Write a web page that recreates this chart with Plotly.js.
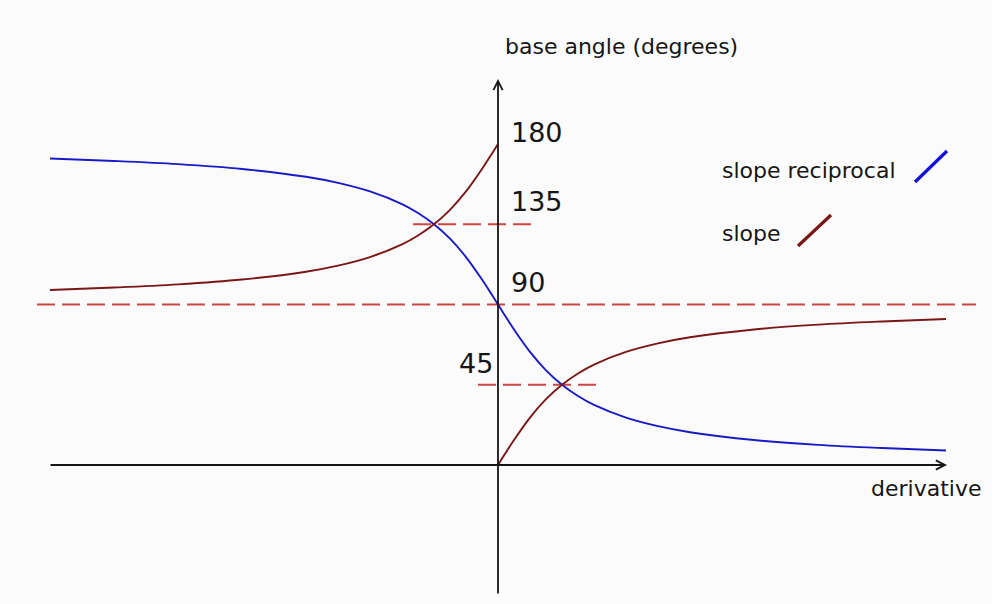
<!DOCTYPE html>
<html>
<head>
<meta charset="utf-8">
<script src="https://cdn.plot.ly/plotly-3.0.1.min.js"></script>
<style>
html,body{margin:0;padding:0;background:#fbfbfb;}
#chart{width:992px;height:604px;}
</style>
</head>
<body>
<div id="chart"></div>
<script>
// ---- data ----
var derivativeAll = [-7,-6,-5,-4,-3,-2.5,-2,-1.5,-1.25,-1,-0.75,-0.5,-0.25,-0.1,0,0.1,0.25,0.5,0.75,1,1.25,1.5,2,2.5,3,4,5,6,7];
var reciprocalAngle = [171.9,170.5,168.7,166.0,161.6,158.2,153.4,146.3,141.3,135.0,126.9,116.6,104.0,95.7,90.0,84.3,76.0,63.4,53.1,45.0,38.7,33.7,26.6,21.8,18.4,14.0,11.3,9.5,8.1];

var derivativeNeg = [-7,-6,-5,-4,-3,-2.5,-2,-1.5,-1.25,-1,-0.75,-0.5,-0.25,-0.1,0];
var slopeAngleNeg = [98.1,99.5,101.3,104.0,108.4,111.8,116.6,123.7,128.7,135.0,143.1,153.4,166.0,174.3,180.0];

var derivativePos = [0,0.1,0.25,0.5,0.75,1,1.25,1.5,2,2.5,3,4,5,6,7];
var slopeAnglePos = [0,5.7,14.0,26.6,36.9,45.0,51.3,56.3,63.4,68.2,71.6,76.0,78.7,80.5,81.9];

var tickLabels = ["180","135","90","45"];
var tickValues = [180,135,90,45];
var refLevels = [135,90,45];

// ---- pixel helpers (layout only) ----
var X0 = 498, XS = 64, Y0 = 465, YS = 160.5/90;
function X(px){ return (px - X0) / XS; }
function Y(py){ return (Y0 - py) / YS; }

var blue = '#1a1ac4', brown = '#7a1616', red = '#cc4646', ink = '#161616';
var FONT = 'DejaVu Sans';

var traces = [
  {x: derivativeAll, y: reciprocalAngle, mode:'lines', line:{color:blue, width:1.9, shape:'spline', smoothing:1}, hoverinfo:'skip'},
  {x: derivativeNeg, y: slopeAngleNeg, mode:'lines', line:{color:brown, width:1.9, shape:'spline', smoothing:1}, hoverinfo:'skip'},
  {x: derivativePos, y: slopeAnglePos, mode:'lines', line:{color:brown, width:1.9, shape:'spline', smoothing:1}, hoverinfo:'skip'}
];

var refExtent = {135:[X(413), X(535)], 90:[X(37), X(976)], 45:[X(478), X(599)]};
var shapes = refLevels.map(function(v){
  return {type:'line', xref:'x', yref:'y', x0:refExtent[v][0], x1:refExtent[v][1], y0:v, y1:v,
          line:{color:red, width:2.2, dash:'18px,7px'}, layer:'below'};
});
shapes.push({type:'line', xref:'x', yref:'y', x0:X(915), y0:Y(182), x1:X(947), y1:Y(151), line:{color:'#1010d8', width:3.2}});
shapes.push({type:'line', xref:'x', yref:'y', x0:X(798), y0:Y(246), x1:X(831), y1:Y(215), line:{color:brown, width:3.2}});

var annotations = [
  // axes with arrow heads
  {x:X(947), y:0, ax:X(49), ay:0, axref:'x', ayref:'y', xref:'x', yref:'y', text:'', showarrow:true,
   arrowhead:5, arrowsize:1, arrowwidth:1.8, arrowcolor:ink, standoff:0, startstandoff:0},
  {x:0, y:Y(79), ax:0, ay:Y(595), axref:'x', ayref:'y', xref:'x', yref:'y', text:'', showarrow:true,
   arrowhead:5, arrowsize:1, arrowwidth:1.8, arrowcolor:ink, standoff:0, startstandoff:0},
  {x:X(503), y:Y(46), xref:'x', yref:'y', text:'base angle (degrees)', showarrow:false, xanchor:'left', yanchor:'middle', font:{family:FONT, size:22, color:ink}},
  {x:X(869), y:Y(488), xref:'x', yref:'y', text:'derivative', showarrow:false, xanchor:'left', yanchor:'middle', font:{family:FONT, size:22, color:ink}},
  {x:X(720), y:Y(170), xref:'x', yref:'y', text:'slope reciprocal', showarrow:false, xanchor:'left', yanchor:'middle', font:{family:FONT, size:22, color:ink}},
  {x:X(720), y:Y(233), xref:'x', yref:'y', text:'slope', showarrow:false, xanchor:'left', yanchor:'middle', font:{family:FONT, size:22, color:ink}}
];
var tickPos = {180:[509,132,'left'], 135:[509,201,'left'], 90:[509,282,'left'], 45:[495,363,'right']};
tickValues.forEach(function(v,i){
  var p = tickPos[v];
  annotations.push({x:X(p[0]), y:Y(p[1]), xref:'x', yref:'y', text:tickLabels[i], showarrow:false,
    xanchor:p[2], yanchor:'middle', font:{family:FONT, size:27, color:ink}});
});

var layout = {
  width:992, height:604,
  margin:{l:0, r:0, t:0, b:0, pad:0},
  paper_bgcolor:'#fbfbfb', plot_bgcolor:'#fbfbfb',
  showlegend:false,
  xaxis:{range:[X(0), X(992)], visible:false, fixedrange:true},
  yaxis:{range:[Y(604), Y(0)], visible:false, fixedrange:true},
  shapes:shapes,
  annotations:annotations
};

Plotly.newPlot('chart', traces, layout, {staticPlot:true, displayModeBar:false});
</script>
</body>
</html>
